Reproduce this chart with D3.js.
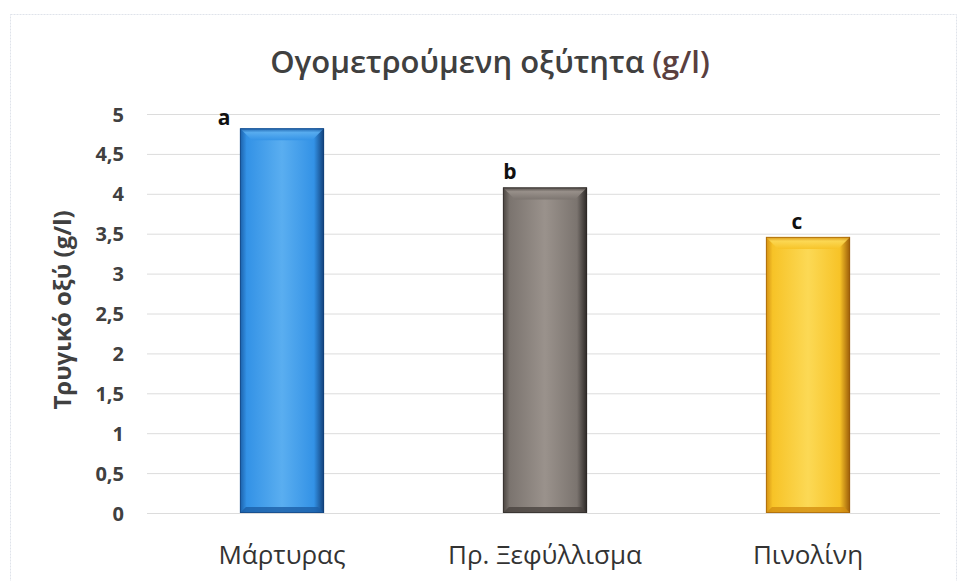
<!DOCTYPE html>
<html>
<head>
<meta charset="utf-8">
<script src="https://cdn.jsdelivr.net/npm/d3@7"></script>
<style>
  html, body { margin: 0; padding: 0; background: #ffffff; }
  svg { display: block; }
</style>
</head>
<body>
<div id="chart"></div>
<script>
// ---- data ----
const categories = ["Μάρτυρας", "Πρ. Ξεφύλλισμα", "Πινολίνη"];
const values = [4.82, 4.08, 3.46];
const letters = ["a", "b", "c"];
const tickValues = [0, 0.5, 1, 1.5, 2, 2.5, 3, 3.5, 4, 4.5, 5];
const tickLabels = ["0", "0,5", "1", "1,5", "2", "2,5", "3", "3,5", "4", "4,5", "5"];
const titleText = "Ογομετρούμενη οξύτητα";
const titleUnit = "(g/l)";
const yTitle = "Τρυγικό οξύ (g/l)";

const palettes = [
  { mid: "#3392e6", light: "#5aaef0", dark: "#1b5fa8", edge: "#123f78" },
  { mid: "#7b746f", light: "#9a928c", dark: "#4a4440", edge: "#2a2624" },
  { mid: "#f7c327", light: "#fcd955", dark: "#d38f12", edge: "#9a5a08" }
];

const W = 959, H = 581;
const svg = d3.select("#chart").append("svg").attr("width", W).attr("height", H)
  .style("font-family", "'Open Sans', 'Noto Sans', sans-serif");

// chart border
svg.append("rect").attr("x", 10.5).attr("y", 14.5).attr("width", 946).attr("height", 580)
  .attr("fill", "none").attr("stroke", "#dfe3ea").attr("stroke-width", 1).attr("stroke-dasharray", "2,1");

const x = d3.scaleBand().domain(categories).range([150.5, 939.5]).paddingInner(0.68).paddingOuter(0.34);
const y = d3.scaleLinear().domain([0, 5]).range([513, 114]);

// gridlines
const grid = svg.append("g").attr("transform", "translate(147,0)")
  .call(d3.axisLeft(y).tickValues(tickValues).tickSize(-793).tickFormat(""));
grid.select(".domain").remove();
grid.selectAll(".tick line").attr("stroke", "#dcdcdc").attr("stroke-width", 1);

// y tick labels
const yAxis = svg.append("g").attr("transform", "translate(124,0)")
  .call(d3.axisLeft(y).tickValues(tickValues).tickSize(0).tickPadding(0)
    .tickFormat((d, i) => tickLabels[i]));
yAxis.select(".domain").remove();
yAxis.selectAll("text").attr("fill", "#404040").attr("font-size", 20).attr("font-weight", "bold")
  .attr("font-family", "'Open Sans', sans-serif").attr("dy", "0.35em");

// gradients
const defs = svg.append("defs");
palettes.forEach((p, i) => {
  const g = defs.append("linearGradient").attr("id", "hg" + i).attr("x1", "0").attr("x2", "1").attr("y1", "0").attr("y2", "0");
  g.append("stop").attr("offset", "0").attr("stop-color", p.dark);
  g.append("stop").attr("offset", "0.08").attr("stop-color", p.mid);
  g.append("stop").attr("offset", "0.5").attr("stop-color", p.light);
  g.append("stop").attr("offset", "0.88").attr("stop-color", p.mid);
  g.append("stop").attr("offset", "1").attr("stop-color", p.edge);
  const t = defs.append("linearGradient").attr("id", "tg" + i).attr("x1", "0").attr("x2", "0").attr("y1", "0").attr("y2", "1");
  t.append("stop").attr("offset", "0").attr("stop-color", p.dark);
  t.append("stop").attr("offset", "0.35").attr("stop-color", p.light);
  t.append("stop").attr("offset", "1").attr("stop-color", p.mid);
});

// bars
const bars = svg.append("g").selectAll("g").data(categories).join("g");
bars.append("rect")
  .attr("x", d => x(d)).attr("y", (d, i) => y(values[i]))
  .attr("width", x.bandwidth()).attr("height", (d, i) => y(0) - y(values[i]))
  .attr("fill", (d, i) => `url(#hg${i})`);
// top bevel
const bev = 12;
bars.append("path")
  .attr("d", (d, i) => {
    const x0 = x(d), x1 = x(d) + x.bandwidth(), yt = y(values[i]);
    return `M${x0},${yt}L${x1},${yt}L${x1 - bev},${yt + bev}L${x0 + bev},${yt + bev}Z`;
  })
  .attr("fill", (d, i) => `url(#tg${i})`).attr("opacity", 0.9);
// bottom bevel
bars.append("path")
  .attr("d", (d) => {
    const x0 = x(d), x1 = x(d) + x.bandwidth(), yb = y(0);
    return `M${x0},${yb}L${x1},${yb}L${x1 - 6},${yb - 6}L${x0 + 6},${yb - 6}Z`;
  })
  .attr("fill", (d, i) => palettes[i].dark).attr("opacity", 0.8);
// bar outline edges
bars.append("rect")
  .attr("x", d => x(d) + 0.5).attr("y", (d, i) => y(values[i]) + 0.5)
  .attr("width", x.bandwidth() - 1).attr("height", (d, i) => y(0) - y(values[i]) - 1)
  .attr("fill", "none").attr("stroke", (d, i) => palettes[i].edge).attr("stroke-opacity", 0.6);

// letters
const letterDx = [-58, -35, -11];
bars.append("text")
  .attr("x", (d, i) => x(d) + x.bandwidth() / 2 + letterDx[i])
  .attr("y", (d, i) => y(values[i]) - 3 - (i === 0 ? 0 : 5))
  .attr("text-anchor", "middle").attr("font-size", 21).attr("font-weight", "bold")
  .attr("fill", "#111").attr("font-family", "'Open Sans', sans-serif")
  .text((d, i) => letters[i]);

// x labels
svg.append("g").selectAll("text").data(categories).join("text")
  .attr("x", d => x(d) + x.bandwidth() / 2).attr("y", 564)
  .attr("text-anchor", "middle").attr("font-size", 26).attr("fill", "#333")
  .text(d => d);

// title
const title = svg.append("text").attr("x", 490).attr("y", 73).attr("text-anchor", "middle")
  .attr("font-size", 31).attr("font-weight", "600").attr("fill", "#404040");
title.append("tspan").text(titleText + " ");
title.append("tspan").attr("fill", "#5a3f3f").text(titleUnit);

// y title
svg.append("text").attr("transform", "translate(71,310) rotate(-90)")
  .attr("text-anchor", "middle").attr("font-size", 24).attr("font-weight", "bold").attr("fill", "#404040")
  .text(yTitle);
</script>
</body>
</html>
